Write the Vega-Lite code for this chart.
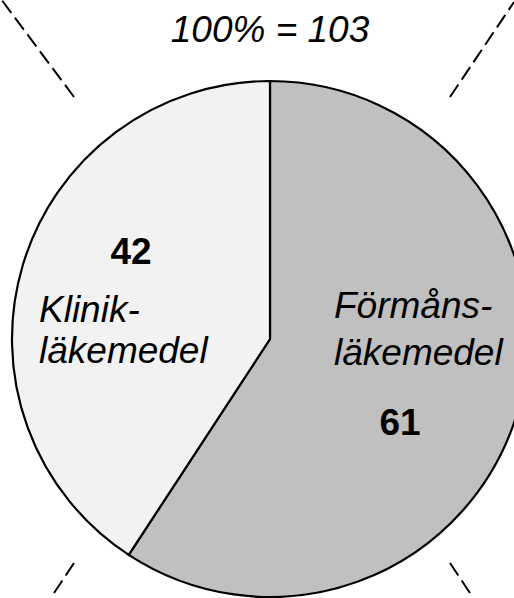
{
  "$schema": "https://vega.github.io/schema/vega-lite/v6.json",
  "width": 488,
  "height": 518,
  "autosize": {"type": "none"},
  "padding": {"left": 26, "top": 80, "right": 0, "bottom": 0},
  "background": "white",
  "config": {"view": {"stroke": null}, "font": "Liberation Sans"},
  "datasets": {
    "slices": [
      {"kategori": "Förmånsläkemedel", "antal": 61},
      {"kategori": "Klinikläkemedel", "antal": 42}
    ],
    "guides": [
      {"x": -196, "y": 242, "x2": -269, "y2": 340},
      {"x": 180, "y": 242, "x2": 244, "y2": 337},
      {"x": -196, "y": -224, "x2": -218, "y2": -257},
      {"x": 180, "y": -224, "x2": 202, "y2": -257}
    ],
    "names": [
      {"tekst": "Klinik-", "x": -231, "y": 17},
      {"tekst": "läkemedel", "x": -231, "y": -24},
      {"tekst": "Förmåns-", "x": 64, "y": 21},
      {"tekst": "läkemedel", "x": 64, "y": -26}
    ],
    "numbers": [
      {"tekst": "42", "x": -139, "y": 75},
      {"tekst": "61", "x": 130, "y": -96}
    ],
    "heading": [
      {"tekst": "100% = 103", "x": 0, "y": 297}
    ]
  },
  "layer": [
    {
      "data": {"name": "slices"},
      "mark": {"type": "arc", "outerRadius": 258, "stroke": "black", "strokeWidth": 2.2},
      "encoding": {
        "theta": {"field": "antal", "type": "quantitative", "stack": true},
        "color": {
          "field": "kategori",
          "type": "nominal",
          "scale": {"domain": ["Förmånsläkemedel", "Klinikläkemedel"], "range": ["#c0c0c0", "#f2f2f2"]},
          "legend": null
        },
        "order": {"field": "antal", "sort": "descending"}
      }
    },
    {
      "data": {"name": "guides"},
      "mark": {"type": "rule", "color": "black", "strokeWidth": 2, "strokeDash": [15, 6]},
      "encoding": {
        "x": {"field": "x", "type": "quantitative", "scale": {"domain": [-244, 244], "nice": false, "zero": false}, "axis": null},
        "y": {"field": "y", "type": "quantitative", "scale": {"domain": [-259, 259], "nice": false, "zero": false}, "axis": null},
        "x2": {"field": "x2"},
        "y2": {"field": "y2"}
      }
    },
    {
      "data": {"name": "names"},
      "mark": {"type": "text", "align": "left", "baseline": "alphabetic", "fontSize": 37, "fontStyle": "italic", "color": "black", "font": "Liberation Sans"},
      "encoding": {
        "x": {"field": "x", "type": "quantitative", "scale": {"domain": [-244, 244], "nice": false, "zero": false}, "axis": null},
        "y": {"field": "y", "type": "quantitative", "scale": {"domain": [-259, 259], "nice": false, "zero": false}, "axis": null},
        "text": {"field": "tekst"}
      }
    },
    {
      "data": {"name": "numbers"},
      "mark": {"type": "text", "align": "center", "baseline": "alphabetic", "fontSize": 37, "fontWeight": "bold", "color": "black", "font": "Liberation Sans"},
      "encoding": {
        "x": {"field": "x", "type": "quantitative", "scale": {"domain": [-244, 244], "nice": false, "zero": false}, "axis": null},
        "y": {"field": "y", "type": "quantitative", "scale": {"domain": [-259, 259], "nice": false, "zero": false}, "axis": null},
        "text": {"field": "tekst"}
      }
    },
    {
      "data": {"name": "heading"},
      "mark": {"type": "text", "align": "center", "baseline": "alphabetic", "fontSize": 37, "fontStyle": "italic", "color": "black", "font": "Liberation Sans"},
      "encoding": {
        "x": {"field": "x", "type": "quantitative", "scale": {"domain": [-244, 244], "nice": false, "zero": false}, "axis": null},
        "y": {"field": "y", "type": "quantitative", "scale": {"domain": [-259, 259], "nice": false, "zero": false}, "axis": null},
        "text": {"field": "tekst"}
      }
    }
  ]
}
